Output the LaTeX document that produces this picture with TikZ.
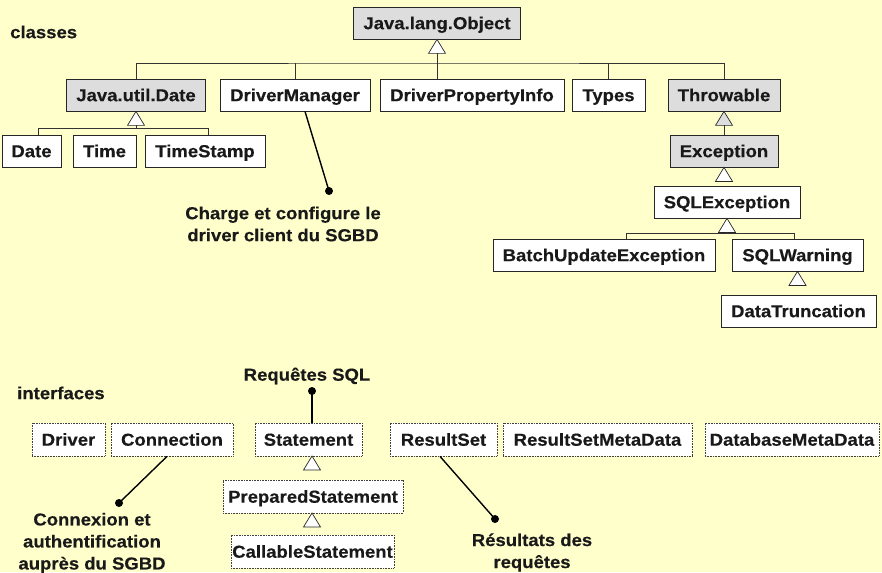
\documentclass[tikz,border=0pt]{standalone}
\usepackage{fontspec}
\setmainfont{Liberation Sans}[FakeStretch=1.07,BoldFeatures={FakeBold=0.35}]
\usetikzlibrary{calc}
\definecolor{bgyellow}{HTML}{FFFFCC}
\definecolor{boxgray}{HTML}{DDDDDD}
\tikzset{
  base/.style={line width=0.8pt, inner sep=0pt, anchor=center, minimum height=32,
    text height=12.4pt, text depth=0pt,
    font=\fontsize{17.3}{22}\selectfont\bfseries, text=black!90},
  cls/.style={base, draw=black!85, fill=white},
  gcls/.style={cls, fill=boxgray},
  intf/.style={base, draw=black!75, fill=white, dash pattern=on 0.8pt off 0.8pt, minimum height=33},
  lbl/.style={font=\fontsize{17.3}{22}\selectfont\bfseries, text=black!90, align=center, inner sep=0pt},
  link/.style={line width=0.7pt, draw=black!80},
  annot/.style={line width=1.4pt, draw=black},
  tri/.style={line width=0.7pt, draw=black!85, fill=white},
  gtri/.style={tri, fill=boxgray},
}
\newcommand\inhtri[2][tri]{\filldraw[#1] (#2) -- ++(-8.5,14) -- ++(17,0) -- cycle;}
\begin{document}
\begin{tikzpicture}[x=1pt,y=-1pt]
\fill[bgyellow] (0,0) rectangle (882,572);
\useasboundingbox (0,0) rectangle (882,572);

% ---------------- classes ----------------
\node[lbl, anchor=west] (lclasses) at (10,32) {classes};

\node[gcls, minimum width=167] (obj) at (437,23) {Java.lang.Object};
\node[gcls, minimum width=139] (jud) at (136,95) {Java.util.Date};
\node[cls, minimum width=150] (dm) at (295,95) {DriverManager};
\node[cls, minimum width=184] (dpi) at (472,95) {DriverPropertyInfo};
\node[cls, minimum width=73] (types) at (608.5,95) {Types};
\node[gcls, minimum width=112] (thr) at (724,95) {Throwable};

\node[cls, minimum width=59] (date) at (31.5,151) {Date};
\node[cls, minimum width=63] (time) at (104.5,151) {Time};
\node[cls, minimum width=120] (ts) at (205,151) {TimeStamp};

\node[gcls, minimum width=108] (exc) at (724,151) {Exception};
\node[cls, minimum width=146] (sqle) at (727,202) {SQLException};
\node[cls, minimum width=222] (bue) at (604,255) {BatchUpdateException};
\node[cls, minimum width=131] (sqlw) at (797.5,255) {SQLWarning};
\node[cls, minimum width=155] (dt) at (798.5,311) {DataTruncation};

% Object hierarchy
\coordinate (bus1) at (437,63);
\inhtri{obj.south}
\draw[link] ($(obj.south)+(0,14)$) -- (bus1);
\draw[link] (jud.north) |- (bus1) -| (thr.north);
\draw[link] (dm.north) -- (dm.north |- bus1);
\draw[link] (dpi.north -| bus1) -- (bus1);
\draw[link] (types.north) -- (types.north |- bus1);

% Date hierarchy
\coordinate (b2l) at (38,128);
\coordinate (b2r) at (208,128);
\inhtri{jud.south}
\draw[link] ($(jud.south)+(0,14)$) -- (jud.south |- b2l);
\draw[link] (b2l |- date.north) -- (b2l) -- (b2r) -- (b2r |- ts.north);

% Throwable hierarchy
\inhtri[gtri]{thr.south}
\draw[link] ($(thr.south)+(0,14)$) -- (exc.north);
\inhtri{exc.south}
\draw[link] ($(exc.south)+(0,14)$) -- ($(exc.south)+(0,14)$ |- sqle.north);
\coordinate (b3l) at (626,233);
\coordinate (b3r) at (794,233);
\inhtri{sqle.south}
\draw[link] ($(sqle.south)+(0,14)$) -- (sqle.south |- b3l);
\draw[link] (b3l |- bue.north) -- (b3l) -- (b3r) -- (b3r |- sqlw.north);
\inhtri{sqlw.south}
\draw[link] ($(sqlw.south)+(0,14)$) -- ($(sqlw.south)+(0,14)$ |- dt.north);

% DriverManager note
\coordinate (dmdot) at (329,191);
\draw[annot] (dm.south -| 305,0) -- (dmdot);
\fill (dmdot) circle (4pt);
\node[lbl] (dmtxt) at (283,224) {Charge et configure le\\driver client du SGBD};

% ---------------- interfaces ----------------
\node[lbl, anchor=west] (linterf) at (17,393) {interfaces};

\node[intf, minimum width=73] (drv) at (68.5,439.5) {Driver};
\node[intf, minimum width=122] (conn) at (172,439.5) {Connection};
\node[intf, minimum width=107] (stmt) at (308.5,439.5) {Statement};
\node[intf, minimum width=107] (rs) at (443.5,439.5) {ResultSet};
\node[intf, minimum width=189] (rsmd) at (597.5,439.5) {ResultSetMetaData};
\node[intf, minimum width=174] (dbmd) at (792,439.5) {DatabaseMetaData};
\node[intf, minimum width=180] (ps) at (313,496.5) {PreparedStatement};
\node[intf, minimum width=163] (cs) at (312.5,551.5) {CallableStatement};

\coordinate (t1) at (312,456);
\inhtri{t1}
\draw[link] ($(t1)+(0,14)$) -- ($(t1)+(0,14)$ |- ps.north);
\coordinate (t2) at (312,513);
\inhtri{t2}
\draw[link] ($(t2)+(0,14)$) -- ($(t2)+(0,14)$ |- cs.north);

% Statement note
\coordinate (stdot) at (312,391);
\draw[annot] (stmt.north -| stdot) -- (stdot);
\fill (stdot) circle (4pt);
\node[lbl] (sttxt) at (307,376) {Requêtes SQL};

% Connection note
\coordinate (cndot) at (119,503);
\draw[annot] (conn.south -| 167,0) -- (cndot);
\fill (cndot) circle (4pt);
\node[lbl] (cntxt) at (92,543) {Connexion et\\authentification\\auprès du SGBD};

% ResultSet note
\coordinate (rsdot) at (495,519);
\draw[annot] (rs.south -| 440,0) -- (rsdot);
\fill (rsdot) circle (4pt);
\node[lbl] (rstxt) at (532,552.5) {Résultats des\\requêtes};
\end{tikzpicture}
\end{document}
